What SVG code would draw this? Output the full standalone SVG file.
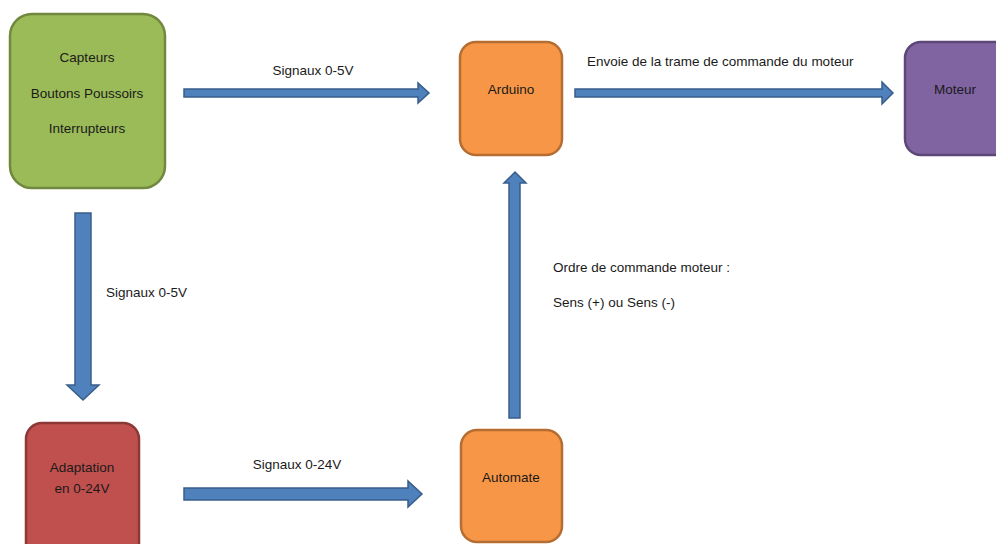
<svg xmlns="http://www.w3.org/2000/svg" width="996" height="544" viewBox="0 0 996 544">
<style>
.t{font-family:"Liberation Sans",Arial,sans-serif;font-size:13.5px;fill:#1a1a1a}
.c{text-anchor:middle}
.arr{fill:#4F81BD;stroke:#385D8A;stroke-width:1.5;stroke-linejoin:miter}
.box{stroke-width:2.5}
</style>
<rect width="996" height="544" fill="#ffffff"/>
<g id="connectors">
<polygon class="arr" points="184,89 418,89 418,83 429,93 418,103 418,97 184,97"/>
<polygon class="arr" points="575,89 882,89 882,82 893,93 882,104 882,97 575,97"/>
<polygon class="arr" points="75,213 91,213 91,385 99,385 83,400 67,385 75,385"/>
<polygon class="arr" points="184,488 408,488 408,481 422,494 408,507 408,500 184,500"/>
<polygon class="arr" points="509,418 509,183 504,183 515,172 526,183 520,183 520,418"/>
<text class="t c" x="313" y="75">Signaux 0-5V</text>
<text class="t" x="587" y="66">Envoie de la trame de commande du moteur</text>
<text class="t" x="106" y="297">Signaux 0-5V</text>
<text class="t c" x="297" y="469">Signaux 0-24V</text>
<text class="t" x="553" y="272">Ordre de commande moteur :</text>
<text class="t" x="553" y="307">Sens (+) ou Sens (-)</text>
</g>
<g id="capteurs">
<rect class="box" x="10" y="14" width="155" height="174" rx="22" fill="#9BBB59" stroke="#71893F"/>
<text class="t c" x="87" y="62">Capteurs</text>
<text class="t c" x="87" y="98">Boutons Poussoirs</text>
<text class="t c" x="87" y="133">Interrupteurs</text>
</g>
<g id="arduino">
<rect class="box" x="460" y="42" width="102" height="113" rx="16" fill="#F79646" stroke="#B66D31"/>
<text class="t c" x="511" y="94">Arduino</text>
</g>
<g id="moteur">
<rect class="box" x="905" y="42" width="110" height="113" rx="16" fill="#8064A2" stroke="#5C4776"/>
<text class="t c" x="955" y="94">Moteur</text>
</g>
<g id="adaptation">
<rect class="box" x="26" y="423" width="113" height="140" rx="16" fill="#C0504D" stroke="#8C3836"/>
<text class="t c" x="82" y="472">Adaptation</text>
<text class="t c" x="82" y="493">en 0-24V</text>
</g>
<g id="automate">
<rect class="box" x="461" y="430" width="101" height="112" rx="16" fill="#F79646" stroke="#B66D31"/>
<text class="t c" x="511" y="482">Automate</text>
</g>
</svg>
